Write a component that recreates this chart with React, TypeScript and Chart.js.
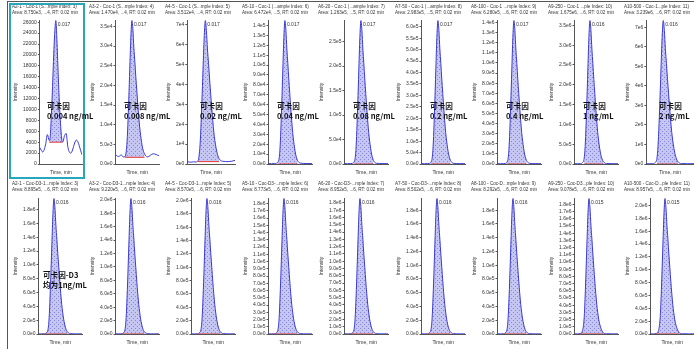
import React, { useEffect, useRef } from "react";
import { Chart, registerables } from "chart.js";
Chart.register(...registerables);

// Shared retention-time axis (min)
const TIME = [0, 0.003, 0.006, 0.008, 0.010, 0.011, 0.012, 0.013, 0.014, 0.015, 0.016, 0.017, 0.018, 0.019, 0.020, 0.021, 0.022, 0.023, 0.024, 0.025, 0.026, 0.028, 0.030, 0.033, 0.039, 0.045];

// Row 1: cocaine (Coc-1)
const COC_A2_1 = [3000, 2200, 3500, 5400, 4300, 5000, 8000, 12000, 16500, 21000, 24500, 26300, 23500, 19000, 14500, 10500, 7500, 5200, 4000, 4200, 5000, 5600, 3000, 2000, 4400, 1700];
const COC_A3_2 = [2400, 1900, 2300, 1800, 1900, 3100, 5900, 11400, 18400, 26100, 33000, 36500, 34100, 29500, 26100, 22200, 18800, 15300, 12100, 9400, 7300, 4100, 2600, 1800, 2600, 2100];
const COC_A4_5 = [1200, 900, 1100, 1000, 1500, 3800, 9600, 20900, 35000, 50600, 64600, 72000, 67000, 57700, 50600, 42700, 35500, 28300, 21800, 16000, 11700, 5800, 2700, 1400, 1200, 1800];
const COC_A5_10 = [500, 300, 400, 700, 2200, 5800, 17400, 40600, 69600, 101500, 130500, 145000, 134900, 116000, 101500, 85600, 71100, 56600, 43500, 31900, 23200, 10200, 3600, 900, 500, 400];
const COC_A6_20 = [800, 600, 900, 1200, 4400, 11700, 35200, 82000, 140600, 205100, 263700, 293000, 272500, 234400, 205100, 172900, 143600, 114300, 87900, 64500, 46900, 20500, 7300, 1500, 900, 700];
const COC_A7_50 = [1500, 1200, 1800, 2500, 9400, 25100, 75200, 175600, 301000, 438900, 564300, 627000, 583100, 501600, 438900, 369900, 307200, 244500, 188100, 137900, 100300, 43900, 15700, 3100, 1800, 1400];
const COC_A8_100 = [3000, 2500, 3500, 5000, 21300, 56800, 170400, 397600, 681600, 994000, 1278000, 1420000, 1320600, 1136000, 994000, 837800, 695800, 553800, 426000, 312400, 227200, 99400, 35500, 7100, 4000, 3000];
const COC_A9_250 = [8000, 6000, 9000, 29000, 144800, 434400, 1013600, 1737600, 2534000, 3258000, 3620000, 3366600, 2896000, 2534000, 2135800, 1773800, 1411800, 1086000, 796400, 579200, 398200, 162900, 54300, 12000, 8000, 7000];
const COC_A10_500 = [15000, 12000, 18000, 58700, 293600, 880800, 2055200, 3523200, 5138000, 6606000, 7340000, 6826200, 5872000, 5138000, 4330600, 3596600, 2862600, 2202000, 1614800, 1174400, 807400, 330300, 110100, 22000, 15000, 14000];

// Row 2: cocaine-D3 internal standard (Coc-D3-1)
const D3_A2_1 = [2000, 1500, 3000, 15700, 78400, 235200, 548800, 940800, 1372000, 1764000, 1960000, 1822800, 1568000, 1372000, 1156400, 960400, 764400, 588000, 431200, 313600, 215600, 88200, 29400, 5900, 2000, 1800];
const D3_A3_2 = [2200, 1800, 3000, 16200, 80800, 242400, 565600, 969600, 1414000, 1818000, 2020000, 1878600, 1616000, 1414000, 1191800, 989800, 787800, 606000, 444400, 323200, 222200, 90900, 30300, 6100, 2200, 2000];
const D3_A4_5 = [1800, 2000, 2800, 17000, 83000, 248000, 572000, 978000, 1423000, 1830000, 2030000, 1885000, 1622000, 1418000, 1196000, 993000, 790000, 608000, 446000, 325000, 223000, 91000, 30000, 6000, 2300, 1900];
const D3_A5_10 = [1900, 1600, 2700, 15000, 74800, 224400, 523600, 897600, 1309000, 1683000, 1870000, 1739100, 1496000, 1309000, 1103300, 916300, 729300, 561000, 411400, 299200, 205700, 84200, 28100, 5600, 1900, 1700];
const D3_A6_20 = [2100, 1700, 2900, 14900, 74400, 223200, 520800, 892800, 1302000, 1674000, 1860000, 1729800, 1488000, 1302000, 1097400, 911400, 725400, 558000, 409200, 297600, 204600, 83700, 27900, 5600, 2000, 1800];
const D3_A7_50 = [2000, 1700, 3100, 15800, 78800, 236400, 551600, 945600, 1379000, 1773000, 1970000, 1832100, 1576000, 1379000, 1162300, 965300, 768300, 591000, 433400, 315200, 216700, 88700, 29600, 5900, 2100, 1900];
const D3_A8_100 = [1800, 1900, 2900, 16000, 79500, 238000, 553000, 947000, 1380000, 1775000, 1970000, 1830000, 1574000, 1377000, 1160000, 963000, 767000, 590000, 432000, 314000, 216000, 88000, 29000, 5800, 2000, 1800];
const D3_A9_250 = [2000, 1800, 7500, 37600, 225600, 526400, 902400, 1316000, 1692000, 1880000, 1748400, 1504000, 1316000, 1109200, 921200, 733200, 564000, 413600, 300800, 206800, 141000, 56400, 15000, 3800, 1900, 1700];
const D3_A10_500 = [2200, 2000, 8400, 42200, 253200, 590800, 1012800, 1477000, 1899000, 2110000, 1962300, 1688000, 1477000, 1244900, 1033900, 822900, 633000, 464200, 337600, 232100, 158300, 63300, 16900, 4200, 2100, 1900];

const ROW1_VALUES = [COC_A2_1, COC_A3_2, COC_A4_5, COC_A5_10, COC_A6_20, COC_A7_50, COC_A8_100, COC_A9_250, COC_A10_500];
const ROW2_VALUES = [D3_A2_1, D3_A3_2, D3_A4_5, D3_A5_10, D3_A6_20, D3_A7_50, D3_A8_100, D3_A9_250, D3_A10_500];

// y tick steps and decimals (-1 = plain integer)
const ROW1_STEP = [2000, 5000, 10000, 10000, 50000, 50000, 100000, 500000, 1000000];
const ROW1_DEC = [-1, 1, 0, 1, 1, 1, 1, 1, 0];
const ROW2_STEP = [200000, 200000, 200000, 100000, 100000, 200000, 200000, 100000, 200000];
const ROW2_DEC = [1, 1, 1, 1, 1, 1, 1, 1, 1];

// integration baselines (red)
const ROW1_BASE_START = [0.010, 0.010, 0.010, 0.010, 0.010, 0.010, 0.010, 0.010, 0.010];
const ROW1_BASE_END = [0.024, 0.030, 0.030, 0.030, 0.030, 0.030, 0.030, 0.030, 0.030];
const ROW1_BASE_LEVEL = [4000, 1700, 1200, 0, 0, 0, 0, 0, 0];
const ROW2_BASE_START = [0.006, 0.006, 0.006, 0.006, 0.006, 0.006, 0.006, 0.006, 0.006];
const ROW2_BASE_END = [0.030, 0.030, 0.030, 0.030, 0.030, 0.030, 0.030, 0.030, 0.030];
const ROW2_BASE_LEVEL = [0, 0, 0, 0, 0, 0, 0, 0, 0];

const ROW1_HEAD1 = [
  "A2-1 - Coc-1 (S...mple Index: 3)",
  "A3-2 - Coc-1 (S...mple Index: 4)",
  "A4-5 - Coc-1 (S...mple Index: 5)",
  "A5-10 - Coc-1 (...ample Index: 6)",
  "A6-20 - Coc-1 (...ample Index: 7)",
  "A7-50 - Coc-1 (...ample Index: 8)",
  "A8-100 - Coc-1 ...mple Index: 9)",
  "A9-250 - Coc-1 ...ple Index: 10)",
  "A10-500 - Coc-1...ple Index: 11)",
];
const ROW1_HEAD2 = [
  "Area: 8.750e3, ...4, RT: 0.02 min",
  "Area: 1.470e4, ...4, RT: 0.02 min",
  "Area: 3.512e4, ...4, RT: 0.02 min",
  "Area: 6.472e4, ...5, RT: 0.02 min",
  "Area: 1.263e5, ...5, RT: 0.02 min",
  "Area: 2.983e5, ...5, RT: 0.02 min",
  "Area: 6.280e5, ...6, RT: 0.02 min",
  "Area: 1.675e6, ...6, RT: 0.02 min",
  "Area: 3.239e6, ...6, RT: 0.02 min",
];
const ROW2_HEAD1 = [
  "A2-1 - Coc-D3-1...mple Index: 3)",
  "A3-2 - Coc-D3-1...mple Index: 4)",
  "A4-5 - Coc-D3-1...mple Index: 5)",
  "A5-10 - Coc-D3-...mple Index: 6)",
  "A6-20 - Coc-D3-...mple Index: 7)",
  "A7-50 - Coc-D3-...mple Index: 8)",
  "A8-100 - Coc-D...mple Index: 9)",
  "A9-250 - Coc-D3...ple Index: 10)",
  "A10-500 - Coc-D...ple Index: 11)",
];
const ROW2_HEAD2 = [
  "Area: 8.895e5, ...6, RT: 0.02 min",
  "Area: 9.220e5, ...6, RT: 0.02 min",
  "Area: 8.570e5, ...6, RT: 0.02 min",
  "Area: 8.773e5, ...6, RT: 0.02 min",
  "Area: 8.952e5, ...6, RT: 0.02 min",
  "Area: 8.502e5, ...6, RT: 0.02 min",
  "Area: 8.292e5, ...6, RT: 0.02 min",
  "Area: 9.078e5, ...6, RT: 0.02 min",
  "Area: 8.957e5, ...6, RT: 0.02 min",
];

const ANALYTE = "可卡因";
const CONCENTRATIONS = ["0.004 ng/mL", "0.008 ng/mL", "0.02 ng/mL", "0.04 ng/mL", "0.08 ng/mL", "0.2 ng/mL", "0.4 ng/mL", "1 ng/mL", "2 ng/mL"];
const IS_NAME = "可卡因-D3";
const IS_CONC = "均为1ng/mL";

// ---- layout ----
const X0 = 10;
const DX = 76.5;
const ROWS = [
  { top: 3, height: 175, padTop: 17, headTop: 3.5 },
  { top: 180, height: 168, padTop: 18, headTop: 181 },
];
const FONT = '"Liberation Sans", Arial, sans-serif';
const TEXT = "#333";

function makePattern(ctx: CanvasRenderingContext2D) {
  const c = document.createElement("canvas");
  c.width = 4;
  c.height = 4;
  const g = c.getContext("2d")!;
  g.fillStyle = "#c6c6f2";
  g.fillRect(0, 0, 4, 4);
  g.fillStyle = "#8585de";
  g.fillRect(0, 0, 1, 1);
  g.fillRect(2, 2, 1, 1);
  return ctx.createPattern(c, "repeat");
}

const peakLabel = {
  id: "peakLabel",
  afterDatasetsDraw(chart: any) {
    const ds = chart.data.datasets[1].data as { x: number; y: number }[];
    let idx = 0;
    ds.forEach((p, i) => {
      if (p.y > ds[idx].y) idx = i;
    });
    const el = chart.getDatasetMeta(1).data[idx];
    const ctx = chart.ctx as CanvasRenderingContext2D;
    ctx.save();
    ctx.font = `5px ${FONT}`;
    ctx.fillStyle = TEXT;
    ctx.textBaseline = "middle";
    ctx.textAlign = "left";
    ctx.fillText(ds[idx].x.toFixed(3), el.x + 2, el.y + 4);
    ctx.restore();
  },
};

type PanelProps = {
  left: number;
  top: number;
  height: number;
  padTop: number;
  headTop: number;
  values: number[];
  step: number;
  dec: number;
  h1: string;
  h2: string;
  bs: number;
  be: number;
  bl: number;
};

function Panel(p: PanelProps) {
  const ref = useRef<HTMLCanvasElement>(null);
  useEffect(() => {
    const canvas = ref.current!;
    const ctx = canvas.getContext("2d")!;
    const pat = makePattern(ctx);
    const pts = TIME.map((t, i) => ({ x: t, y: p.values[i] }));
    const area = pts.filter((q) => q.x >= p.bs - 1e-9 && q.x <= p.be + 1e-9);
    const peak = Math.max(...p.values);
    const top = peak * 1.004;
    const step = p.step;
    const chart = new Chart(canvas, {
      type: "line",
      data: {
        datasets: [
          {
            data: [
              { x: p.bs, y: p.bl },
              { x: p.be, y: p.bl },
            ],
            borderColor: "#e83a2f",
            borderWidth: 1,
            pointRadius: 0,
            fill: false,
          },
          {
            data: pts,
            borderColor: "#3a3ad4",
            borderWidth: 1,
            pointRadius: 0,
            fill: false,
            cubicInterpolationMode: "monotone",
          },
          {
            data: area,
            borderWidth: 0,
            borderColor: "rgba(0,0,0,0)",
            backgroundColor: pat as any,
            pointRadius: 0,
            fill: { value: p.bl },
            cubicInterpolationMode: "monotone",
          },
        ],
      } as any,
      options: {
        animation: false,
        responsive: false,
        devicePixelRatio: 1,
        events: [],
        layout: { padding: { top: p.padTop, left: 3, right: 2, bottom: 0 } },
        plugins: { legend: { display: false }, tooltip: { enabled: false } },
        scales: {
          x: {
            type: "linear",
            min: 0,
            max: 0.045,
            ticks: { display: false },
            grid: { display: false, drawTicks: false },
            border: { display: true, color: "#555", width: 1 },
            title: {
              display: true,
              text: "Time, min",
              font: { size: 5, family: FONT },
              color: TEXT,
              padding: { top: 6, bottom: 2 },
            },
          },
          y: {
            type: "linear",
            min: 0,
            max: top,
            afterBuildTicks: (scale: any) => {
              const ticks: { value: number }[] = [];
              for (let k = 0; k * step <= top; k++) ticks.push({ value: k * step });
              scale.ticks = ticks;
              scale.min = 0;
              scale.max = top;
            },
            ticks: {
              autoSkip: false,
              font: { size: 5, family: FONT },
              color: TEXT,
              padding: 1,
              callback: (v: any) =>
                p.dec < 0 ? String(v) : Number(v).toExponential(p.dec).replace("e+", "e"),
            },
            grid: { drawOnChartArea: false, tickLength: 2, color: "#555" },
            border: { display: true, color: "#555", width: 1 },
            title: {
              display: true,
              text: "Intensity",
              font: { size: 5, family: FONT },
              color: TEXT,
              padding: { top: 0, bottom: 3 },
            },
          },
        },
      } as any,
      plugins: [peakLabel],
    });
    return () => chart.destroy();
  }, []);
  return (
    <>
      <canvas
        ref={ref}
        width={74}
        height={p.height}
        style={{ position: "absolute", left: p.left, top: p.top, width: 74, height: p.height }}
      />
      <div
        style={{
          position: "absolute",
          left: p.left + 2,
          top: p.headTop,
          fontFamily: FONT,
          fontSize: "4.6px",
          lineHeight: "6px",
          color: TEXT,
          whiteSpace: "nowrap",
        }}
      >
        <div>{p.h1}</div>
        <div>{p.h2}</div>
      </div>
    </>
  );
}

const annStyle: React.CSSProperties = {
  position: "absolute",
  fontFamily: '"Noto Sans CJK SC", "Noto Sans", sans-serif',
  fontWeight: 700,
  fontSize: "7.6px",
  lineHeight: "10px",
  color: "#111",
  whiteSpace: "nowrap",
  zIndex: 5,
};

export default function App() {
  const panels: PanelProps[] = [];
  for (let c = 0; c < 9; c++) {
    panels.push({
      left: Math.round(X0 + c * DX),
      top: ROWS[0].top,
      height: ROWS[0].height,
      padTop: ROWS[0].padTop,
      headTop: ROWS[0].headTop,
      values: ROW1_VALUES[c],
      step: ROW1_STEP[c],
      dec: ROW1_DEC[c],
      h1: ROW1_HEAD1[c],
      h2: ROW1_HEAD2[c],
      bs: ROW1_BASE_START[c],
      be: ROW1_BASE_END[c],
      bl: ROW1_BASE_LEVEL[c],
    });
  }
  for (let c = 0; c < 9; c++) {
    panels.push({
      left: Math.round(X0 + c * DX),
      top: ROWS[1].top,
      height: ROWS[1].height,
      padTop: ROWS[1].padTop,
      headTop: ROWS[1].headTop,
      values: ROW2_VALUES[c],
      step: ROW2_STEP[c],
      dec: ROW2_DEC[c],
      h1: ROW2_HEAD1[c],
      h2: ROW2_HEAD2[c],
      bs: ROW2_BASE_START[c],
      be: ROW2_BASE_END[c],
      bl: ROW2_BASE_LEVEL[c],
    });
  }
  return (
    <div
      style={{
        position: "absolute",
        left: 0,
        top: 0,
        width: 694,
        height: 349,
        background: "#fff",
        overflow: "hidden",
      }}
    >
      <div style={{ position: "absolute", left: 7, top: 1, width: 690, height: 352, borderTop: "1px solid #555", borderLeft: "1px solid #555" }} />
      {panels.map((p, i) => (
        <Panel key={i} {...p} />
      ))}
      <div
        style={{
          position: "absolute",
          left: 9,
          top: 3,
          width: 72,
          height: 172,
          border: "2px solid #26a8b8",
          zIndex: 4,
        }}
      />
      {CONCENTRATIONS.map((conc, c) => (
        <div key={c} style={{ ...annStyle, left: Math.round(X0 + c * DX) + 37, top: 101 }}>
          <div>{ANALYTE}</div>
          <div>{conc}</div>
        </div>
      ))}
      <div style={{ ...annStyle, left: 43, top: 270 }}>
        <div>{IS_NAME}</div>
        <div>{IS_CONC}</div>
      </div>
    </div>
  );
}
